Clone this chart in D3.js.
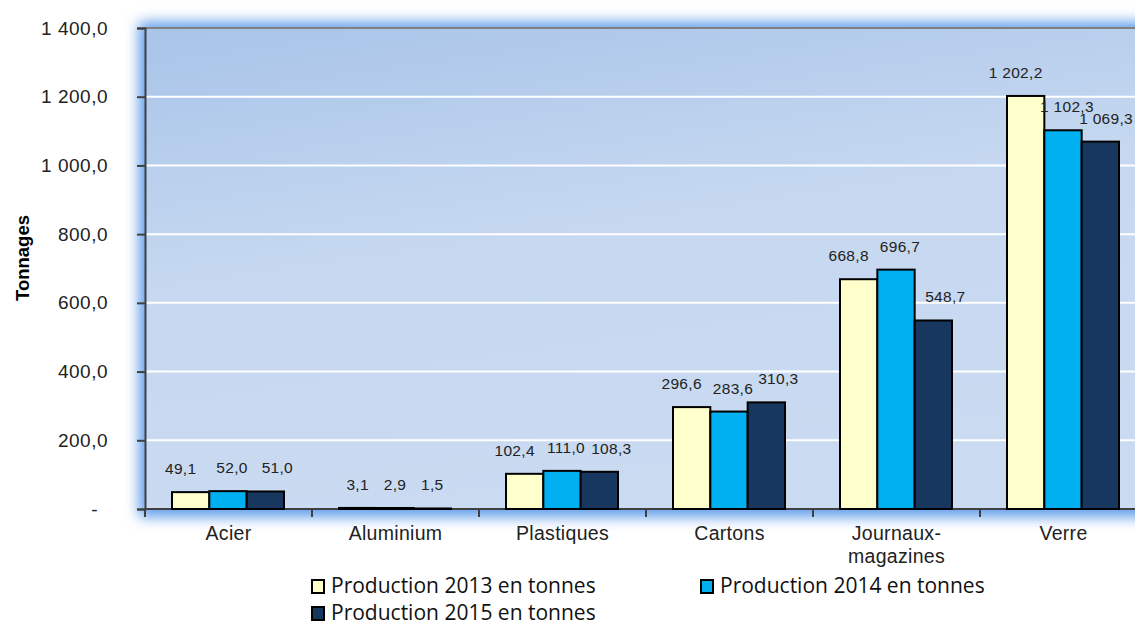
<!DOCTYPE html>
<html>
<head>
<meta charset="utf-8">
<script src="https://cdn.jsdelivr.net/npm/d3@7"></script>
<style>
  body { margin: 0; background: #fff; overflow: hidden; }
  svg { display: block; }
</style>
</head>
<body>
<svg id="chart" width="1135" height="626"></svg>
<script>
// data
const categories = ["Acier", "Aluminium", "Plastiques", "Cartons", "Journaux-\nmagazines", "Verre"];
const seriesNames = ["Production 2013 en tonnes", "Production 2014 en tonnes", "Production 2015 en tonnes"];
const prod2013 = [49.1, 3.1, 102.4, 296.6, 668.8, 1202.2];
const prod2014 = [52.0, 2.9, 111.0, 283.6, 696.7, 1102.3];
const prod2015 = [51.0, 1.5, 108.3, 310.3, 548.7, 1069.3];
const yTicks = [0, 200, 400, 600, 800, 1000, 1200, 1400];
const colors = ["#FFFFCC", "#00B0F0", "#17375E"];

const series = [prod2013, prod2014, prod2015];

const svg = d3.select("#chart");
const W = 1135;
const pLeft = 145, pTop = 28, pRight = 1147, pBottom = 509;

const x = d3.scaleBand().domain(categories).range([pLeft, pRight]).paddingInner(0).paddingOuter(0);
const xs = d3.scaleBand().domain([0, 1, 2]).range([27, x.bandwidth() - 28]);
const y = d3.scaleLinear().domain([0, 1400]).range([pBottom, pTop]);

const fmt = v => {
  if (v === 0) return "-";
  const s = d3.format(",.1f")(v);
  return s.replace(/,/g, " ").replace(".", ",");
};

const defs = svg.append("defs");
const grad = defs.append("linearGradient").attr("id", "bg")
  .attr("x1", "0%").attr("y1", "0%").attr("x2", "30%").attr("y2", "100%");
grad.append("stop").attr("offset", "0%").attr("stop-color", "#A8C4E9");
grad.append("stop").attr("offset", "50%").attr("stop-color", "#C6D8F0");
grad.append("stop").attr("offset", "100%").attr("stop-color", "#C9DAF1");
defs.append("filter").attr("id", "glow").attr("x", "-10%").attr("y", "-10%").attr("width", "120%").attr("height", "120%")
  .append("feGaussianBlur").attr("stdDeviation", 7);

// glow around the plot
svg.append("rect")
  .attr("x", pLeft - 6).attr("y", pTop - 6)
  .attr("width", pRight - pLeft + 12).attr("height", pBottom - pTop + 14)
  .attr("fill", "#5E9BEB").attr("filter", "url(#glow)");
svg.append("rect")
  .attr("x", pLeft).attr("y", pTop)
  .attr("width", pRight - pLeft).attr("height", pBottom - pTop)
  .attr("fill", "url(#bg)");

// grid
svg.append("g").selectAll("line")
  .data(yTicks.filter(d => d > 0 && d < 1400))
  .join("line")
  .attr("x1", pLeft).attr("x2", pRight)
  .attr("y1", d => y(d)).attr("y2", d => y(d))
  .attr("stroke", "#fff").attr("stroke-width", 2);
svg.append("line")
  .attr("x1", pLeft).attr("x2", pRight)
  .attr("y1", y(1400)).attr("y2", y(1400))
  .attr("stroke", "#808080").attr("stroke-width", 2);

// y axis
const yAxis = svg.append("g")
  .attr("transform", `translate(${pLeft},0)`)
  .call(d3.axisLeft(y).tickValues(yTicks).tickFormat(fmt).tickSize(8).tickPadding(29));
yAxis.select(".domain").attr("stroke", "#404040").attr("stroke-width", 2);
yAxis.selectAll(".tick line").attr("stroke", "#404040").attr("stroke-width", 2);
yAxis.selectAll("text")
  .attr("font-family", "Liberation Sans, Arial, sans-serif")
  .attr("font-size", 19).attr("letter-spacing", 0.5).attr("fill", "#222")
  .attr("dx", d => d === 0 ? -10 : 0);

// x axis line + ticks at category boundaries
svg.append("line")
  .attr("x1", pLeft).attr("x2", pRight)
  .attr("y1", pBottom).attr("y2", pBottom)
  .attr("stroke", "#404040").attr("stroke-width", 2);
svg.append("g").selectAll("line")
  .data(categories.concat([null]))
  .join("line")
  .attr("x1", (d, i) => pLeft + i * x.bandwidth())
  .attr("x2", (d, i) => pLeft + i * x.bandwidth())
  .attr("y1", pBottom).attr("y2", pBottom + 8)
  .attr("stroke", "#404040").attr("stroke-width", 2);

// category labels
svg.append("g").selectAll("text")
  .data(categories)
  .join("text")
  .attr("x", d => x(d) + x.bandwidth() / 2)
  .attr("y", pBottom + 31)
  .attr("text-anchor", "middle")
  .attr("font-family", "Liberation Sans, Arial, sans-serif")
  .attr("font-size", 19.5).attr("letter-spacing", 0.3).attr("fill", "#222")
  .selectAll("tspan")
  .data(d => d.split("\n"))
  .join("tspan")
  .attr("x", function() { return d3.select(this.parentNode).attr("x"); })
  .attr("dy", (d, i) => i === 0 ? 0 : 23)
  .text(d => d);

// bars
const groups = svg.append("g").selectAll("g")
  .data(series)
  .join("g")
  .attr("fill", (d, i) => colors[i]);

groups.each(function(vals, si) {
  d3.select(this).selectAll("rect")
    .data(vals)
    .join("rect")
    .attr("x", (v, ci) => x(categories[ci]) + xs(si))
    .attr("y", v => y(v))
    .attr("width", xs.bandwidth())
    .attr("height", v => y(0) - y(v))
    .attr("stroke", "#000").attr("stroke-width", 2);
});

// value labels
const labelDx = [-10, 4, 12];
groups.each(function(vals, si) {
  d3.select(this).selectAll("text")
    .data(vals)
    .join("text")
    .attr("x", (v, ci) => x(categories[ci]) + xs(si) + xs.bandwidth() / 2 + (ci === 1 ? 0 : labelDx[si]))
    .attr("y", v => y(v) - 18)
    .attr("text-anchor", "middle")
    .attr("font-family", "Liberation Sans, Arial, sans-serif")
    .attr("font-size", 15.5).attr("letter-spacing", 0.3).attr("fill", "#222")
    .text(v => fmt(v))
    .each(function() {
      // keep labels inside the window
      const b = this.getBBox();
      const over = b.x + b.width - (W - 2);
      if (over > 0) d3.select(this).attr("x", +d3.select(this).attr("x") - over);
    });
});

// y title
svg.append("text")
  .attr("transform", "translate(29,258) rotate(-90)")
  .attr("text-anchor", "middle")
  .attr("font-family", "Liberation Sans, Arial, sans-serif")
  .attr("font-weight", "bold")
  .attr("font-size", 18.5).attr("fill", "#000")
  .text("Tonnages");

// legend
const legendPos = [[311, 586], [700, 586], [311, 613]];
const leg = svg.append("g").selectAll("g")
  .data(seriesNames)
  .join("g")
  .attr("transform", (d, i) => `translate(${legendPos[i][0]},${legendPos[i][1]})`);
leg.append("rect")
  .attr("x", 1).attr("y", -6).attr("width", 12).attr("height", 13)
  .attr("fill", (d, i) => colors[i]).attr("stroke", "#000").attr("stroke-width", 2);
leg.append("text")
  .attr("x", 20).attr("y", 7)
  .attr("font-family", "Open Sans, sans-serif")
  .attr("font-size", 21).attr("fill", "#111")
  .text(d => d);
</script>
</body>
</html>
